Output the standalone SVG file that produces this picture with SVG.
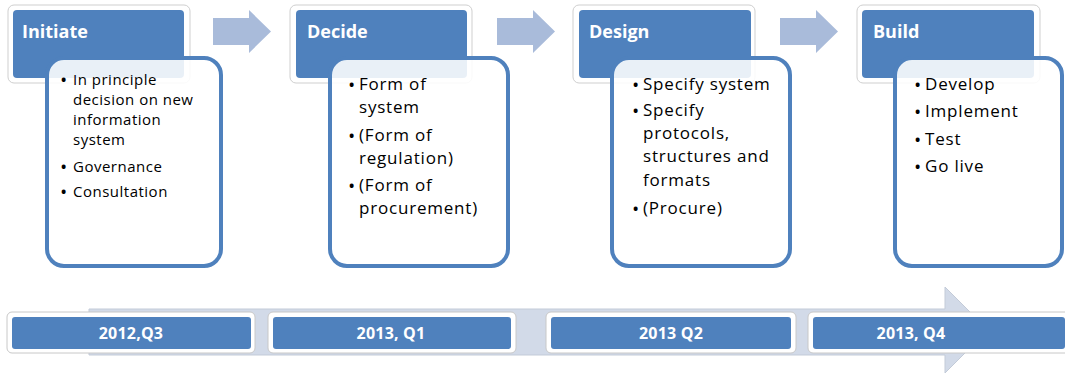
<svg xmlns="http://www.w3.org/2000/svg" width="1065" height="374" viewBox="0 0 1065 374">
<style>
.frame{fill:#fff;stroke:#cfcfcf;stroke-width:1}
.hdr{fill:#4F81BD}
.body{fill:#fff;fill-opacity:0.88;stroke:#4F81BD;stroke-width:4}
.ht{font-family:"Open Sans","Liberation Sans",sans-serif;font-weight:bold;font-size:18px;fill:#fff}
.t1{font-family:"Open Sans","Liberation Sans",sans-serif;font-size:15px;font-weight:500;letter-spacing:0.5px;fill:#000}
.t2{font-family:"Open Sans","Liberation Sans",sans-serif;font-size:17px;font-weight:500;letter-spacing:0.8px;fill:#000}
.b{font-weight:bold;font-size:14px}
.arr{fill:#A9BBDA}
.band{fill:#D2DAE8;stroke:#C3CBD8;stroke-width:1}
.tf{fill:#fff;stroke:#c8c8c8;stroke-width:1}
.tt{font-family:"Open Sans","Liberation Sans",sans-serif;font-weight:bold;font-size:16px;letter-spacing:0.2px;fill:#fff;text-anchor:middle}
</style>

<g id="timeline-band">
  <path class="band" d="M89,309 H945 V287 L988,330 L945,373 V355 H89 Z"/>
</g>

<g id="connectors">
  <path class="arr" d="M213,18 H249 V10 L271,31.5 L249,53 V45 H213 Z"/>
  <path class="arr" d="M497,18 H533 V10 L555,31.5 L533,53 V45 H497 Z"/>
  <path class="arr" d="M780,18 H816 V10 L838,31.5 L816,53 V45 H780 Z"/>
</g>

<g id="initiate">
  <rect class="frame" x="8" y="5" width="182" height="78" rx="6"/>
  <rect class="hdr" x="13" y="10" width="171" height="68" rx="4"/>
  <text class="ht" x="22" y="38">Initiate</text>
  <rect class="body" x="47" y="58" width="174" height="208" rx="17"/>
  <g class="t1">
    <text class="b" x="61" y="85">•</text><text x="73" y="85">In principle</text>
    <text x="73" y="105">decision on new</text>
    <text x="73" y="125">information</text>
    <text x="73" y="145">system</text>
    <text class="b" x="61" y="172">•</text><text x="73" y="172">Governance</text>
    <text class="b" x="61" y="197">•</text><text x="73" y="197">Consultation</text>
  </g>
</g>

<g id="decide">
  <rect class="frame" x="290" y="5" width="182" height="78" rx="6"/>
  <rect class="hdr" x="296" y="10" width="171" height="68" rx="4"/>
  <text class="ht" x="307" y="38">Decide</text>
  <rect class="body" x="330" y="58" width="178" height="208" rx="17"/>
  <g class="t2">
    <text class="b" x="349" y="90">•</text><text x="359" y="90">Form of</text>
    <text x="359" y="113">system</text>
    <text class="b" x="349" y="141">•</text><text x="359" y="141">(Form of</text>
    <text x="359" y="164">regulation)</text>
    <text class="b" x="349" y="191">•</text><text x="359" y="191">(Form of</text>
    <text x="359" y="214">procurement)</text>
  </g>
</g>

<g id="design">
  <rect class="frame" x="573" y="5" width="182" height="78" rx="6"/>
  <rect class="hdr" x="579" y="10" width="172" height="68" rx="4"/>
  <text class="ht" x="589" y="38">Design</text>
  <rect class="body" x="612" y="58" width="178" height="208" rx="17"/>
  <g class="t2">
    <text class="b" x="633" y="90">•</text><text x="643" y="90">Specify system</text>
    <text class="b" x="633" y="116">•</text><text x="643" y="116">Specify</text>
    <text x="643" y="139">protocols,</text>
    <text x="643" y="162">structures and</text>
    <text x="643" y="186">formats</text>
    <text class="b" x="633" y="214">•</text><text x="643" y="214">(Procure)</text>
  </g>
</g>

<g id="build">
  <rect class="frame" x="857" y="5" width="183" height="78" rx="6"/>
  <rect class="hdr" x="862" y="10" width="172" height="68" rx="4"/>
  <text class="ht" x="873" y="38">Build</text>
  <rect class="body" x="895" y="58" width="167" height="208" rx="17"/>
  <g class="t2">
    <text class="b" x="915" y="90">•</text><text x="925" y="90">Develop</text>
    <text class="b" x="915" y="117">•</text><text x="925" y="117">Implement</text>
    <text class="b" x="915" y="145">•</text><text x="925" y="145">Test</text>
    <text class="b" x="915" y="172">•</text><text x="925" y="172">Go live</text>
  </g>
</g>

<g id="t-2012q3">
  <rect class="tf" x="7" y="312" width="248" height="41" rx="5"/>
  <rect class="hdr" x="12" y="317" width="239" height="32" rx="3"/>
  <text class="tt" x="131" y="339">2012,Q3</text>
</g>
<g id="t-2013q1">
  <rect class="tf" x="268" y="312" width="248" height="41" rx="5"/>
  <rect class="hdr" x="273" y="317" width="238" height="32" rx="3"/>
  <text class="tt" x="391" y="339">2013, Q1</text>
</g>
<g id="t-2013q2">
  <rect class="tf" x="546" y="312" width="250" height="41" rx="5"/>
  <rect class="hdr" x="551" y="317" width="240" height="32" rx="3"/>
  <text class="tt" x="671" y="339">2013 Q2</text>
</g>
<g id="t-2013q4">
  <rect class="tf" x="808" y="312" width="270" height="41" rx="5"/>
  <rect class="hdr" x="813" y="317" width="252" height="32" rx="3"/>
  <text class="tt" x="911" y="339">2013, Q4</text>
</g>
</svg>
